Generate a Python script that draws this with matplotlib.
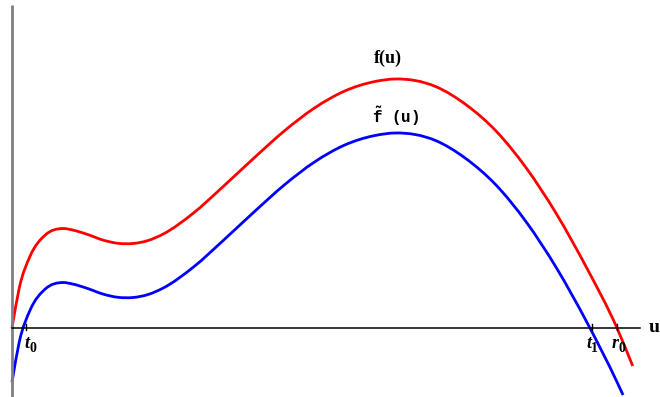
import numpy as np
import matplotlib
matplotlib.use("Agg")
import matplotlib.pyplot as plt
from matplotlib.path import Path
from matplotlib.patches import PathPatch

plt.rcParams["mathtext.fontset"] = "custom"
plt.rcParams["mathtext.tt"] = "Liberation Mono:bold"
plt.rcParams["mathtext.rm"] = "Liberation Mono:bold"

# f(u): sampled values along u (r0 is at u = 1)
u_f = [0.000, 0.012, 0.030, 0.055, 0.084, 0.100, 0.125, 0.150, 0.175, 0.200,
       0.225, 0.250, 0.300, 0.350, 0.400, 0.450, 0.500, 0.550, 0.600, 0.633,
       0.700, 0.750, 0.800, 0.850, 0.900, 0.950, 1.000, 1.026]
f_vals = [0.00, 0.40, 0.72, 0.93, 0.995, 0.98, 0.935, 0.88, 0.847, 0.845,
          0.875, 0.94, 1.15, 1.42, 1.70, 1.97, 2.20, 2.37, 2.465, 2.49,
          2.415, 2.235, 1.97, 1.60, 1.14, 0.60, 0.00, -0.38]

# f~(u): the lowered curve
u_ft = [0.000, 0.012, 0.030, 0.055, 0.084, 0.100, 0.125, 0.150, 0.175, 0.200,
        0.225, 0.250, 0.300, 0.350, 0.400, 0.450, 0.500, 0.550, 0.600, 0.633,
        0.700, 0.750, 0.800, 0.850, 0.900, 0.950, 1.000, 1.010]
ft_vals = [-0.54, -0.14, 0.18, 0.39, 0.455, 0.44, 0.395, 0.34, 0.307, 0.305,
           0.335, 0.40, 0.61, 0.88, 1.16, 1.43, 1.66, 1.83, 1.925, 1.95,
           1.875, 1.695, 1.43, 1.06, 0.60, 0.06, -0.54, -0.67]

# marked points on the u axis
tick_pos = [0.0226, 0.958, 1.000]
tick_names = ["t", "t", "r"]
tick_subs = ["0", "1", "0"]


def smooth_path(xs, ys):
    """Piecewise cubic Hermite curve in x through the points, as Bezier segments."""
    x = np.asarray(xs, float)
    y = np.asarray(ys, float)
    n = len(x)
    m = np.empty(n)
    m[0] = (y[1] - y[0]) / (x[1] - x[0])
    m[-1] = (y[-1] - y[-2]) / (x[-1] - x[-2])
    for i in range(1, n - 1):
        d0 = (y[i] - y[i - 1]) / (x[i] - x[i - 1])
        d1 = (y[i + 1] - y[i]) / (x[i + 1] - x[i])
        h0 = x[i] - x[i - 1]
        h1 = x[i + 1] - x[i]
        m[i] = (d0 * h1 + d1 * h0) / (h0 + h1)
    verts = [(x[0], y[0])]
    codes = [Path.MOVETO]
    for i in range(n - 1):
        h = x[i + 1] - x[i]
        verts += [(x[i] + h / 3, y[i] + m[i] * h / 3),
                  (x[i + 1] - h / 3, y[i + 1] - m[i + 1] * h / 3),
                  (x[i + 1], y[i + 1])]
        codes += [Path.CURVE4] * 3
    return Path(verts, codes)


fig = plt.figure(figsize=(6.6, 3.97), dpi=100)
ax = fig.add_axes([0, 0, 1, 1])
ax.set_xlim(-12 / 605, 648 / 605)
ax.set_ylim(-0.69, 3.28)
ax.axis("off")

# axes lines
ax.plot([0, 0], [-0.69, 3.23], color="#808080", lw=2.0, solid_capstyle="butt")
ax.plot([0, 1.038], [0, 0], color="black", lw=1.1)

for x in tick_pos:
    ax.plot([x, x], [-0.015, 0.04], color="black", lw=1.0)

ax.add_patch(PathPatch(smooth_path(u_f, f_vals), fill=False,
                       edgecolor="#ff0000", lw=2.0, capstyle="butt"))
ax.add_patch(PathPatch(smooth_path(u_ft, ft_vals), fill=False,
                       edgecolor="#0000ff", lw=2.0, capstyle="butt"))

serif = "Liberation Serif"

# curve labels
ax.text(0.621, 2.70, "f(u)", fontfamily=serif, fontweight="bold",
        fontsize=13, ha="center", va="center")
ax.text(0.634, 2.12, r"$\tilde{\mathtt{f}}$ (u)", fontfamily="Liberation Mono",
        fontweight="bold", fontsize=11.5, ha="center", va="center")

# axis name
ax.text(1.052, 0.0, "u", fontfamily=serif, fontweight="bold",
        fontsize=14, ha="left", va="center")

# point labels with subscripts
label_dx = [0.007, -0.001, 0.002]
for x, name, sub, dx in zip(tick_pos, tick_names, tick_subs, label_dx):
    ax.text(x + dx, -0.15, name, fontfamily=serif, fontweight="bold",
            fontstyle="italic", fontsize=13, ha="right", va="center")
    ax.text(x + dx, -0.21, sub, fontfamily=serif, fontweight="bold",
            fontsize=10, ha="left", va="center")

fig.savefig("out.png", dpi=100)
